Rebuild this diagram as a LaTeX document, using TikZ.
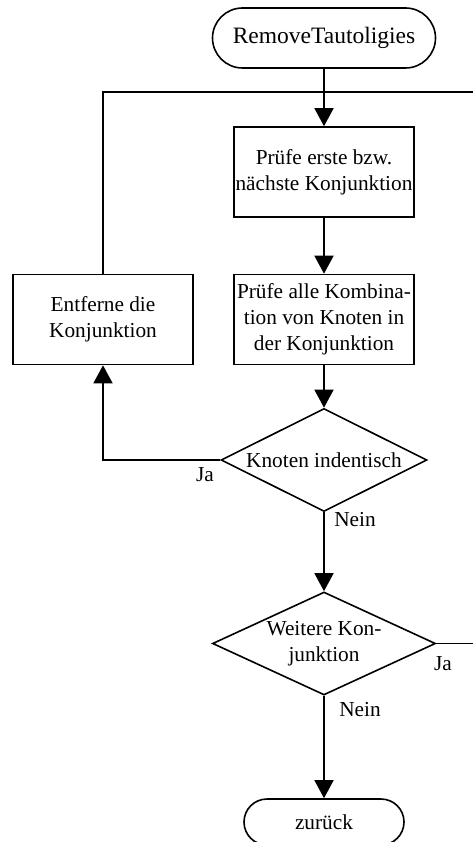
\documentclass[tikz,border=0pt]{standalone}
\usepackage{fontspec}
\setmainfont{Liberation Serif}
\usetikzlibrary{arrows.meta,shapes.geometric,shapes.misc}

\begin{document}
\begin{tikzpicture}[x=1pt,y=-1pt,
  every node/.style={font=\fontsize{21.3pt}{26pt}\selectfont},
  line/.style={line width=1.6pt},
  flow/.style={line, -{Triangle[width=19pt,length=18pt]}},
  process/.style={draw, line width=1.6pt, rectangle, minimum width=180pt,
    minimum height=90pt, align=center, inner sep=0pt},
  decision/.style={draw, line width=1.6pt, diamond, shape aspect=2.2,
    inner sep=0pt, align=center},
  terminal/.style={draw, line width=1.6pt, rounded rectangle, inner sep=0pt,
    align=center},
  lbl/.style={inner sep=0pt}]
\useasboundingbox (0,0) rectangle (473,842);
\clip (0,0) rectangle (473,842);

% flow chart nodes
\node[terminal, minimum width=223pt, minimum height=60pt,
  font=\fontsize{23.5pt}{28pt}\selectfont] (start) at (324,38) {RemoveTautoligies};
\node[process] (check) at (324,172) {Prüfe erste bzw.\\nächste Konjunktion};
\node[process] (combi) at (324,319.5) {Prüfe alle Kombina-\\tion von Knoten in\\der Konjunktion};
\node[process] (remove) at (103,319.5) {Entferne die\\Konjunktion};
\node[decision, minimum width=206pt, minimum height=103pt] (same) at (324,460) {Knoten indentisch};
\node[decision, minimum width=223pt, minimum height=103pt] (more) at (324,643.5) {Weitere Kon-\\junktion};
\node[terminal, minimum width=160pt, minimum height=46pt] (back) at (324,822) {zurück};

% loose ends of the loop leaving on the right
\coordinate (loopR) at (473,92);
\coordinate (exitR) at (473,643.5);

% connectors
\draw[flow] (start) -- (check);
\draw[flow] (check) -- (combi);
\draw[flow] (combi) -- (same);
\draw[flow] (same.west) -| (remove.south);
\draw[line] (remove.north) |- (loopR);
\draw[flow] (same) -- (more);
\draw[flow] (more) -- (back);
\draw[line] (more.east) -- (exitR);

% branch labels
\node[lbl] (jaL) at (205,475) {Ja};
\node[lbl] (neinA) at (355,520) {Nein};
\node[lbl] (jaR) at (443,664) {Ja};
\node[lbl] (neinB) at (360,710) {Nein};
\end{tikzpicture}
\end{document}
